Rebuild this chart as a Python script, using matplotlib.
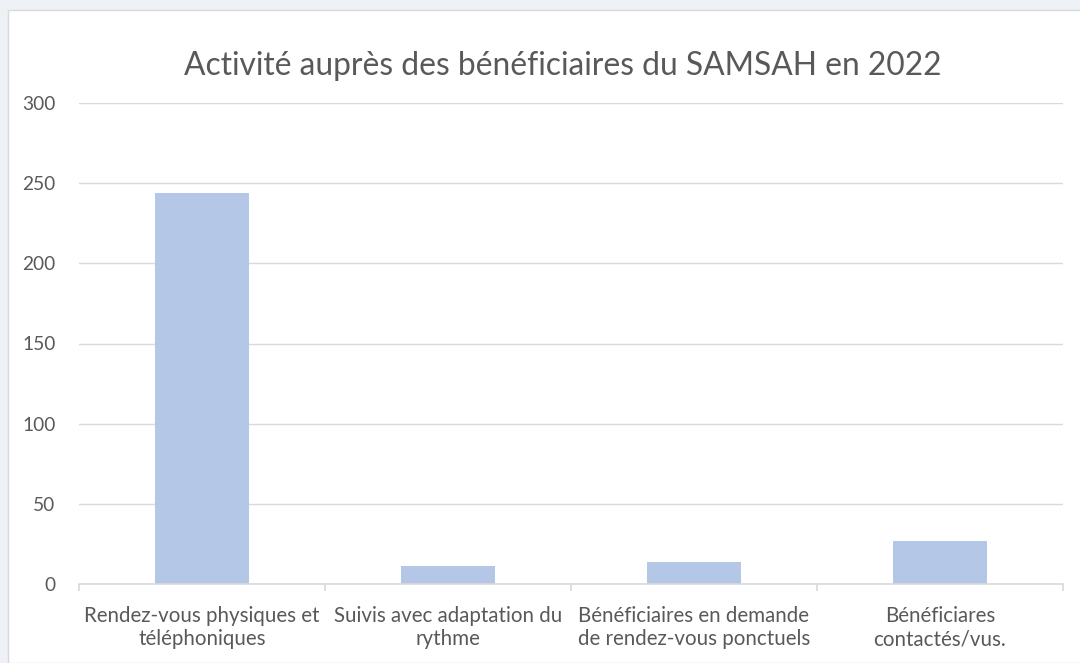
import matplotlib
matplotlib.use("Agg")
import matplotlib.pyplot as plt
from matplotlib.patches import Rectangle
from matplotlib.ticker import FixedLocator

categories = [
    "Rendez-vous physiques et\ntéléphoniques",
    "Suivis avec adaptation du\nrythme",
    "Bénéficiaires en demande\nde rendez-vous ponctuels",
    "Bénéficiares\ncontactés/vus.",
]
values = [244, 11, 14, 27]
yticks = [0, 50, 100, 150, 200, 250, 300]
title = "Activité auprès des bénéficiaires du SAMSAH en 2022"

TXT = "#595959"
plt.rcParams['font.family'] = ['Lato', 'DejaVu Sans']

fig = plt.figure(figsize=(10.8, 6.63), dpi=100)
fig.patch.set_facecolor("#eef1f5")
bg = Rectangle((8/1080, 0), 1, 1 - 10/663, transform=fig.transFigure,
               facecolor="white", edgecolor="#d9d9d9", linewidth=1, zorder=-5)
fig.add_artist(bg)

ax = fig.add_axes([79/1080, 79/663, 984/1080, 481/663])
ax.set_zorder(2)
ax.set_facecolor("none")
x = list(range(len(categories)))
ax.bar(x, values, width=0.38, color="#b4c7e7", zorder=3)
ax.set_xlim(-0.5, len(categories) - 0.5)
ax.set_ylim(0, 300)
ax.set_yticks(yticks)
ax.yaxis.grid(True, color="#d9d9d9", linewidth=1)
ax.set_axisbelow(True)
for s in ["top", "right", "left"]:
    ax.spines[s].set_visible(False)
ax.spines["bottom"].set_color("#d9d9d9")
ax.spines["bottom"].set_linewidth(1.2)
ax.spines["bottom"].set_zorder(4)

ax.set_xticks(x)
ax.set_xticklabels(categories, linespacing=1.2)
ax.xaxis.set_minor_locator(FixedLocator([i - 0.5 for i in range(len(categories) + 1)]))
ax.tick_params(axis="x", which="major", length=0, pad=16, labelsize=14.8, labelcolor=TXT)
ax.tick_params(axis="x", which="minor", length=5, color="#d9d9d9", width=1.2)
ax.tick_params(axis="y", length=0, pad=17, labelsize=13.8, labelcolor=TXT)

fig.text(563/1080, 1 - 66/663, title, ha="center", va="center", fontsize=22.9, color=TXT)

fig.savefig("out.png", dpi=100, facecolor=fig.get_facecolor())
